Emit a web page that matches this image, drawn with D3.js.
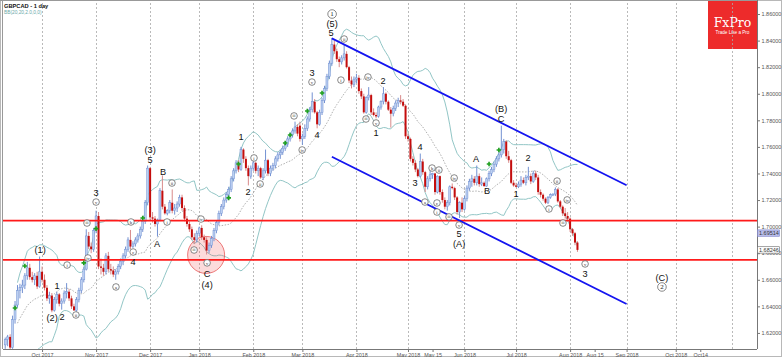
<!DOCTYPE html>
<html><head><meta charset="utf-8">
<script src="https://cdn.jsdelivr.net/npm/d3@7"></script>
<style>
html,body{margin:0;padding:0;background:#fff;}
svg{display:block;font-family:"Liberation Sans",Arial,sans-serif;}
</style></head><body>
<svg id="c" width="782" height="357"></svg>
<script>
// ---------------- data ----------------
const symbolTitle = "GBPCAD - 1 day";
const indicatorTitle = "BB(20,20,2.0,0,0)";
const firstBarDate = "2017-09-11";
const holidays = ["2017-12-25", "2018-01-01"];

const opens = [
1.6110,1.6150,1.6170,1.6090,1.6300,1.6410,1.6520,1.6540,1.6560,1.6630,
1.6690,1.6620,1.6600,1.6630,1.6550,1.6660,1.6600,1.6540,1.6460,1.6480,
1.6370,1.6450,1.6490,1.6420,1.6440,1.6500,1.6510,1.6460,1.6400,1.6370,
1.6450,1.6520,1.6600,1.6680,1.6930,1.6850,1.6830,1.6970,1.7080,1.6700,
1.6690,1.6660,1.6780,1.6680,1.6670,1.6640,1.6660,1.6700,1.6740,1.6780,
1.6830,1.6900,1.6850,1.6870,1.6900,1.6930,1.6980,1.7040,1.7180,1.7440,
1.7070,1.7060,1.7020,1.7050,1.7270,1.7150,1.7100,1.7120,1.7180,1.7120,
1.7140,1.7170,1.7220,1.7140,1.7060,1.7020,1.6980,1.6920,1.6900,1.6950,
1.6990,1.6920,1.6900,1.6820,1.6860,1.6910,1.6970,1.7030,1.7100,1.7150,
1.7200,1.7240,1.7280,1.7360,1.7420,1.7480,1.7430,1.7580,1.7510,1.7440,
1.7380,1.7440,1.7480,1.7420,1.7440,1.7370,1.7420,1.7500,1.7400,1.7440,
1.7460,1.7510,1.7540,1.7560,1.7590,1.7620,1.7660,1.7690,1.7720,1.7750,
1.7760,1.7660,1.7680,1.7740,1.7810,1.7880,1.7940,1.7860,1.7770,1.7860,
1.7950,1.8040,1.8130,1.8230,1.8370,1.8320,1.8260,1.8240,1.8270,1.8300,
1.8200,1.8100,1.8070,1.8110,1.8120,1.8020,1.7980,1.7860,1.7970,1.7990,
1.7860,1.7840,1.7830,1.7900,1.7940,1.8000,1.7940,1.7880,1.7850,1.7890,
1.7930,1.7950,1.7940,1.7910,1.7680,1.7660,1.7510,1.7480,1.7430,1.7380,
1.7490,1.7410,1.7300,1.7360,1.7390,1.7400,1.7260,1.7380,1.7260,1.7200,
1.7150,1.7180,1.7300,1.7290,1.7220,1.7110,1.7180,1.7130,1.7210,1.7290,
1.7340,1.7360,1.7330,1.7380,1.7320,1.7330,1.7305,1.7360,1.7400,1.7430,
1.7470,1.7510,1.7540,1.7580,1.7640,1.7530,1.7500,1.7330,1.7310,1.7300,
1.7320,1.7350,1.7330,1.7370,1.7380,1.7340,1.7400,1.7370,1.7260,1.7240,
1.7210,1.7180,1.7220,1.7240,1.7245,1.7280,1.7190,1.7150,1.7100,1.7080,
1.7060,1.6980,1.6950,1.6880];

const highs = [
1.6165,1.6185,1.6190,1.6330,1.6440,1.6560,1.6570,1.6600,1.6650,1.6735,
1.6720,1.6660,1.6650,1.6660,1.6775,1.6700,1.6640,1.6560,1.6510,1.6500,
1.6470,1.6510,1.6500,1.6460,1.6520,1.6575,1.6530,1.6480,1.6420,1.6470,
1.6540,1.6620,1.6700,1.6980,1.6960,1.6880,1.6990,1.7120,1.7110,1.6760,
1.6720,1.6800,1.6810,1.6720,1.6700,1.6680,1.6720,1.6760,1.6800,1.6850,
1.6920,1.6975,1.6890,1.6920,1.6950,1.7000,1.7060,1.7200,1.7460,1.7450,
1.7110,1.7080,1.7060,1.7290,1.7385,1.7170,1.7130,1.7200,1.7280,1.7170,
1.7190,1.7240,1.7240,1.7160,1.7080,1.7040,1.7000,1.6950,1.6970,1.7000,
1.7010,1.6940,1.6920,1.6880,1.6930,1.6990,1.7050,1.7120,1.7170,1.7220,
1.7260,1.7300,1.7380,1.7440,1.7500,1.7500,1.7600,1.7590,1.7530,1.7460,
1.7460,1.7495,1.7490,1.7460,1.7450,1.7440,1.7580,1.7510,1.7460,1.7480,
1.7530,1.7560,1.7580,1.7610,1.7640,1.7680,1.7710,1.7740,1.7790,1.7770,
1.7790,1.7700,1.7770,1.7830,1.7900,1.8010,1.7960,1.7870,1.7880,1.7970,
1.8060,1.8150,1.8250,1.8420,1.8400,1.8340,1.8280,1.8290,1.8370,1.8320,
1.8210,1.8130,1.8130,1.8150,1.8140,1.8040,1.8000,1.7980,1.8050,1.8000,
1.7890,1.7860,1.7910,1.7950,1.8050,1.8010,1.7950,1.7900,1.7910,1.7950,
1.7970,1.7990,1.7960,1.7920,1.7700,1.7670,1.7530,1.7500,1.7440,1.7550,
1.7510,1.7420,1.7380,1.7420,1.7405,1.7405,1.7385,1.7385,1.7280,1.7220,
1.7200,1.7310,1.7325,1.7300,1.7230,1.7190,1.7220,1.7230,1.7310,1.7360,
1.7390,1.7380,1.7460,1.7400,1.7370,1.7340,1.7370,1.7420,1.7450,1.7490,
1.7530,1.7560,1.7760,1.7660,1.7650,1.7570,1.7510,1.7350,1.7330,1.7340,
1.7380,1.7370,1.7390,1.7450,1.7400,1.7420,1.7420,1.7390,1.7280,1.7250,
1.7220,1.7230,1.7250,1.7250,1.7295,1.7290,1.7200,1.7160,1.7140,1.7110,
1.7070,1.6990,1.6960,1.6890];

const lows = [
1.6080,1.6100,1.6075,1.6080,1.6270,1.6390,1.6460,1.6500,1.6530,1.6600,
1.6600,1.6580,1.6560,1.6530,1.6540,1.6580,1.6520,1.6440,1.6420,1.6355,
1.6360,1.6420,1.6400,1.6375,1.6420,1.6460,1.6440,1.6380,1.6365,1.6360,
1.6430,1.6500,1.6580,1.6670,1.6830,1.6800,1.6810,1.6950,1.6680,1.6640,
1.6630,1.6640,1.6660,1.6640,1.6620,1.6600,1.6640,1.6680,1.6710,1.6760,
1.6810,1.6830,1.6840,1.6850,1.6880,1.6910,1.6960,1.7020,1.7160,1.7050,
1.7030,1.7000,1.6925,1.7040,1.7130,1.7090,1.7085,1.7100,1.7100,1.7090,
1.7110,1.7150,1.7120,1.7040,1.7000,1.6960,1.6900,1.6870,1.6880,1.6930,
1.6900,1.6880,1.6790,1.6800,1.6840,1.6890,1.6950,1.7010,1.7080,1.7130,
1.7180,1.7210,1.7260,1.7340,1.7400,1.7410,1.7420,1.7480,1.7420,1.7310,
1.7360,1.7420,1.7400,1.7380,1.7360,1.7350,1.7400,1.7380,1.7380,1.7420,
1.7440,1.7490,1.7510,1.7540,1.7570,1.7600,1.7640,1.7670,1.7700,1.7680,
1.7640,1.7615,1.7660,1.7720,1.7790,1.7860,1.7850,1.7740,1.7760,1.7840,
1.7930,1.8020,1.8110,1.8210,1.8300,1.8240,1.8200,1.8220,1.8250,1.8190,
1.8080,1.8040,1.8050,1.8080,1.8000,1.7960,1.7850,1.7850,1.7950,1.7840,
1.7830,1.7815,1.7820,1.7880,1.7920,1.7920,1.7870,1.7745,1.7830,1.7870,
1.7900,1.7920,1.7900,1.7660,1.7640,1.7490,1.7460,1.7410,1.7370,1.7370,
1.7390,1.7260,1.7280,1.7340,1.7360,1.7240,1.7250,1.7240,1.7180,1.7130,
1.7120,1.7160,1.7280,1.7200,1.7090,1.7065,1.7110,1.7120,1.7190,1.7270,
1.7300,1.7310,1.7310,1.7300,1.7305,1.7300,1.7300,1.7340,1.7380,1.7410,
1.7450,1.7490,1.7520,1.7550,1.7510,1.7480,1.7320,1.7300,1.7295,1.7290,
1.7300,1.7320,1.7310,1.7350,1.7320,1.7330,1.7350,1.7240,1.7220,1.7195,
1.7170,1.7170,1.7210,1.7230,1.7230,1.7180,1.7140,1.7080,1.7060,1.7040,
1.6960,1.6930,1.6860,1.6810];

const closes = [
1.6150,1.6170,1.6090,1.6300,1.6410,1.6520,1.6540,1.6560,1.6630,1.6690,
1.6620,1.6600,1.6630,1.6550,1.6660,1.6600,1.6540,1.6460,1.6480,1.6370,
1.6450,1.6490,1.6420,1.6440,1.6500,1.6510,1.6460,1.6400,1.6370,1.6450,
1.6520,1.6600,1.6680,1.6930,1.6850,1.6830,1.6970,1.7080,1.6700,1.6690,
1.6660,1.6780,1.6680,1.6670,1.6640,1.6660,1.6700,1.6740,1.6780,1.6830,
1.6900,1.6850,1.6870,1.6900,1.6930,1.6980,1.7040,1.7180,1.7440,1.7070,
1.7060,1.7020,1.7050,1.7270,1.7150,1.7100,1.7120,1.7180,1.7120,1.7140,
1.7170,1.7220,1.7140,1.7060,1.7020,1.6980,1.6920,1.6900,1.6950,1.6990,
1.6920,1.6900,1.6820,1.6860,1.6910,1.6970,1.7030,1.7100,1.7150,1.7200,
1.7240,1.7280,1.7360,1.7420,1.7480,1.7430,1.7580,1.7510,1.7440,1.7380,
1.7440,1.7480,1.7420,1.7440,1.7370,1.7420,1.7500,1.7400,1.7440,1.7460,
1.7510,1.7540,1.7560,1.7590,1.7620,1.7660,1.7690,1.7720,1.7750,1.7700,
1.7660,1.7680,1.7740,1.7810,1.7880,1.7940,1.7860,1.7770,1.7860,1.7950,
1.8040,1.8130,1.8230,1.8370,1.8320,1.8260,1.8240,1.8270,1.8300,1.8200,
1.8100,1.8070,1.8110,1.8120,1.8020,1.7980,1.7860,1.7970,1.7990,1.7860,
1.7840,1.7830,1.7900,1.7940,1.8000,1.7940,1.7880,1.7850,1.7890,1.7930,
1.7950,1.7940,1.7910,1.7680,1.7660,1.7510,1.7480,1.7430,1.7380,1.7490,
1.7410,1.7300,1.7360,1.7390,1.7400,1.7260,1.7380,1.7260,1.7200,1.7150,
1.7180,1.7300,1.7290,1.7220,1.7110,1.7180,1.7130,1.7210,1.7290,1.7340,
1.7360,1.7330,1.7380,1.7320,1.7330,1.7305,1.7360,1.7400,1.7430,1.7470,
1.7510,1.7540,1.7580,1.7640,1.7530,1.7500,1.7330,1.7310,1.7300,1.7320,
1.7350,1.7330,1.7370,1.7380,1.7340,1.7400,1.7370,1.7260,1.7240,1.7210,
1.7180,1.7220,1.7240,1.7245,1.7280,1.7190,1.7150,1.7100,1.7080,1.7060,
1.6980,1.6950,1.6880,1.6825];

// x-axis tick labels (date of the bar each label sits on)
const tickDates = ["2017-10-02","2017-11-01","2017-12-01","2018-01-02","2018-02-01","2018-03-01",
  "2018-04-02","2018-05-01","2018-05-15","2018-06-01","2018-07-02","2018-08-01","2018-08-15",
  "2018-09-03","2018-10-01","2018-10-15"];
const tickLabels = ["Oct 2017","Nov 2017","Dec 2017","Jan 2018","Feb 2018","Mar 2018",
  "Apr 2018","May 2018","May 15","Jun 2018","Jul 2018","Aug 2018","Aug 15",
  "Sep 2018","Oct 2018","Oct14"];
const gridDates = ["2017-10-02","2017-11-01","2017-12-01","2018-01-02","2018-02-01","2018-03-01",
  "2018-04-02","2018-05-01","2018-06-01","2018-07-02","2018-08-01","2018-09-03","2018-10-01","2018-11-01"];
const priceTicks = [1.62,1.64,1.66,1.68,1.70,1.72,1.74,1.76,1.78,1.80,1.82,1.84,1.86];

// horizontal levels and channel
const levels = [1.7045, 1.6750];
const channelUpper = [["2018-03-19", 1.8417], ["2018-09-03", 1.7311]];
const channelLower = [["2018-03-19", 1.7526], ["2018-09-03", 1.6418]];
const zoneCircle = ["2018-01-02", 1.6787];   // highlighted circle near this bar
const priceTags = [[1.69514, "1.69514", "tagBlue"], [1.68246, "1.68246", "tagWhite"]];

// green arrow markers [bar, price]
const markers = [[4,1.6388],[8,1.6704],[32,1.6727],[37,1.6985],[56,1.7065],[91,1.7216],
  [95,1.7471],[114,1.7629],[116,1.7690],[123,1.7870],[129,1.8006],[197,1.7471],[201,1.7577]];

// Elliott wave labels [bar, price, text, kind]  kind: t=text, c=small circle, C=big circle
const waveLabels = [
 [14.2,1.6824,"(1)","t"],[19.1,1.6313,"(2)","t"],[23.1,1.6320,"2","t"],[21.1,1.6553,"1","t"],
 [25.2,1.6711,"i","c"],[28.8,1.6335,"ii","c"],[33.3,1.7027,"iii","c"],[33.7,1.6764,"iv","c"],
 [37.0,1.7185,"v","c"],[37.0,1.7253,"3","t"],
 [45.1,1.6546,"a","c"],[51.2,1.7035,"b","c"],[52.1,1.6809,"c","c"],[52.1,1.6734,"4","t"],
 [59.0,1.7577,"(3)","t"],[59.0,1.7501,"5","t"],[61.8,1.6869,"A","t"],[64.3,1.7411,"B","t"],
 [65.9,1.7035,"i","c"],[67.9,1.7328,"ii","c"],[76.9,1.6824,"iii","c"],[79.7,1.7057,"iv","c"],
 [82.2,1.6727,"v","c"],[82.2,1.6644,"C","t"],[82.2,1.6561,"(4)","t"],
 [96.0,1.7675,"1","t"],[98.9,1.7261,"2","t"],[101.3,1.7517,"i","c"],[103.8,1.7321,"ii","c"],
 [117.6,1.7833,"iii","c"],[120.9,1.7577,"iv","c"],[124.9,1.8088,"v","c"],[124.9,1.8156,"3","t"],
 [127.0,1.7690,"4","t"],[132.7,1.8457,"5","t"],[133.1,1.8525,"(5)","t"],[133.1,1.8600,"1","C"],
 [136.7,1.8103,"i","c"],[138.0,1.8412,"ii","c"],[146.9,1.7810,"iii","c"],[147.7,1.8126,"iv","c"],
 [151.0,1.7780,"v","c"],[151.0,1.7705,"1","t"],[153.8,1.8096,"2","t"],
 [166.9,1.7328,"3","t"],[168.9,1.7599,"4","t"],[170.9,1.7185,"a","c"],[173.8,1.7441,"b","c"],
 [175.8,1.7178,"c","c"],[176.6,1.7426,"ii","c"],[175.8,1.7110,"i","c"],[182.8,1.7366,"iv","c"],
 [180.7,1.7073,"iii","c"],[184.8,1.7012,"v","c"],[184.8,1.6945,"5","t"],[184.8,1.6870,"(A)","t"],
 [191.7,1.7509,"A","t"],[196.2,1.7268,"B","t"],[201.9,1.7810,"C","t"],[201.9,1.7885,"(B)","t"],
 [208.0,1.7246,"1","t"],[212.9,1.7517,"2","t"],
 [221.4,1.7133,"i","c"],[224.7,1.7343,"ii","c"],[227.1,1.7027,"iii","c"],[228.8,1.7201,"iv","c"],
 [236.1,1.6719,"v","c"],[236.1,1.6644,"3","t"],
 [267.4,1.6614,"(C)","t"],[267.4,1.6546,"2","C"]
];

// ---------------- layout ----------------
const plot = {left: 3, right: 757, top: 3, bottom: 349};
const visibleBars = [-0.9, 306.1];
const visiblePrice = [1.6079, 1.8683];

const parse = d3.utcParse("%Y-%m-%d"), fmt = d3.utcFormat("%Y-%m-%d");
const days = [];
for (let d = parse(firstBarDate); days.length < 330; d = d3.utcDay.offset(d, 1)) {
  const wd = d.getUTCDay();
  if (wd === 0 || wd === 6) continue;
  if (holidays.includes(fmt(d))) continue;
  days.push(fmt(d));
}
const barOf = s => days.indexOf(s);

const x = d3.scaleLinear().domain(visibleBars).range([plot.left, plot.right]);
const y = d3.scaleLinear().domain(visiblePrice).range([plot.bottom, plot.top]);

const svg = d3.select("#c");
svg.append("rect").attr("x",0.5).attr("y",0.5).attr("width",781).attr("height",356)
  .attr("fill","#fff").attr("stroke","#b8b8b8");

// logo
const logo = svg.append("g");
logo.append("rect").attr("x",708).attr("y",0).attr("width",49).attr("height",49).attr("fill","#ed2b2b");
logo.append("text").attr("x",732.5).attr("y",27).attr("text-anchor","middle")
  .attr("font-family","'DejaVu Serif','Liberation Serif',serif").attr("font-size",12.5)
  .attr("fill","#fff").text("FxPro");
logo.append("text").attr("x",732.5).attr("y",33.5).attr("text-anchor","middle")
  .attr("font-size",4.6).attr("fill","#fff").text("Trade Like a Pro");

svg.append("defs").append("clipPath").attr("id","clip").append("rect")
  .attr("x",plot.left).attr("y",plot.top).attr("width",plot.right-plot.left).attr("height",plot.bottom-plot.top);
const g = svg.append("g").attr("clip-path","url(#clip)");

// grid
g.selectAll("line.grid").data(gridDates).join("line").attr("class","grid")
  .attr("x1",d=>Math.round(x(barOf(d)))+0.5).attr("x2",d=>Math.round(x(barOf(d)))+0.5)
  .attr("y1",plot.top).attr("y2",plot.bottom)
  .attr("stroke","#a8a8a8").attr("stroke-width",0.8).attr("stroke-dasharray","2,2");

// Bollinger bands (20, 2) computed from closes
const bb = closes.map((c,i) => {
  const w = closes.slice(Math.max(0,i-19), i+1);
  const m = d3.mean(w), s = Math.sqrt(d3.mean(w, v => (v-m)*(v-m)));
  return {i, m, u: m+2*s, l: m-2*s};
}).filter(d => d.i >= 5);
const ln = k => d3.line().x(d=>x(d.i)).y(d=>y(d[k]));
g.append("path").datum(bb).attr("d",ln("u")).attr("fill","none").attr("stroke","#92c6c6").attr("stroke-width",1);
g.append("path").datum(bb).attr("d",ln("l")).attr("fill","none").attr("stroke","#92c6c6").attr("stroke-width",1);
g.append("path").datum(bb).attr("d",ln("m")).attr("fill","none").attr("stroke","#9a9a9a").attr("stroke-width",0.8).attr("stroke-dasharray","1.5,1.5");

// highlight circle
g.append("circle").attr("cx",x(barOf(zoneCircle[0])+2.8)).attr("cy",y(zoneCircle[1])).attr("r",18.5)
  .attr("fill","rgba(240,90,90,0.22)").attr("stroke","rgba(230,70,70,0.7)").attr("stroke-width",1);

// candles
const bars = closes.map((c,i)=>({i,o:opens[i],h:highs[i],l:lows[i],c}));
const cg = g.append("g");
cg.selectAll("line.w").data(bars).join("line")
  .attr("x1",d=>x(d.i)).attr("x2",d=>x(d.i)).attr("y1",d=>y(d.h)).attr("y2",d=>y(d.l))
  .attr("stroke",d=>d.c>=d.o?"#7391d2":"#d88a8a").attr("stroke-width",1);
cg.selectAll("rect.b").data(bars).join("rect")
  .attr("x",d=>x(d.i)-1).attr("width",2)
  .attr("y",d=>y(Math.max(d.o,d.c))).attr("height",d=>Math.max(1,Math.abs(y(d.o)-y(d.c))))
  .attr("fill",d=>d.c>=d.o?"#bcd0f2":"#c40d0d")
  .attr("stroke",d=>d.c>=d.o?"#7391d2":"none").attr("stroke-width",0.5);

// horizontal levels
g.selectAll("line.lvl").data(levels).join("line")
  .attr("x1",plot.left).attr("x2",plot.right).attr("y1",d=>y(d)).attr("y2",d=>y(d))
  .attr("stroke","#ff1a1a").attr("stroke-width",1.6);

// channel
[channelUpper, channelLower].forEach(ch => {
  g.append("line").attr("x1",x(barOf(ch[0][0]))).attr("y1",y(ch[0][1]))
    .attr("x2",x(barOf(ch[1][0]))).attr("y2",y(ch[1][1]))
    .attr("stroke","#1414f0").attr("stroke-width",1.8);
});

// green markers
const mg = g.append("g");
markers.forEach(([b,p]) => {
  const cx = x(b), cy = y(p);
  mg.append("path").attr("d",`M${cx-2.3},${cy}H${cx+2.3}M${cx},${cy-2.3}V${cy+2.3}`)
    .attr("stroke","#1fa01f").attr("stroke-width",1.6);
});

// wave labels
const lg = g.append("g");
waveLabels.forEach(([b,p,t,k]) => {
  const cx = x(b), cy = y(p);
  if (k === "t") {
    lg.append("text").attr("x",cx).attr("y",cy).attr("text-anchor","middle")
      .attr("dominant-baseline","central").attr("font-size",9.2).attr("fill","#111").text(t);
  } else {
    const r = k === "C" ? 4.3 : 3.3;
    lg.append("circle").attr("cx",cx).attr("cy",cy).attr("r",r).attr("fill","#fff")
      .attr("stroke","#555").attr("stroke-width",0.7);
    lg.append("text").attr("x",cx).attr("y",cy+0.3).attr("text-anchor","middle")
      .attr("dominant-baseline","central").attr("font-size",k==="C"?7:(t.length>2?3.5:4.5))
      .attr("font-family","'Liberation Serif',serif").attr("fill","#222").text(t);
  }
});

// frame
svg.append("line").attr("x1",plot.left-0.5).attr("x2",plot.left-0.5).attr("y1",0).attr("y2",plot.bottom).attr("stroke","#999");
svg.append("line").attr("x1",0).attr("x2",plot.right).attr("y1",0.5).attr("y2",0.5).attr("stroke","#999");

// axes
const ya = svg.append("g").attr("transform",`translate(${plot.right},0)`)
  .call(d3.axisRight(y).tickValues(priceTicks).tickFormat(d3.format(".5f")).tickSize(3).tickPadding(1.5));
ya.select(".domain").attr("stroke","#777").attr("d",`M0.5,0V${plot.bottom}`);
ya.selectAll(".tick line").attr("stroke","#777");
ya.selectAll("text").attr("font-size",5.5).attr("fill","#555").attr("font-family","'Liberation Sans',Arial,sans-serif");

const xa = svg.append("g").attr("transform",`translate(0,${plot.bottom})`)
  .call(d3.axisBottom(x).tickValues(tickDates.map(barOf)).tickFormat((d,i)=>tickLabels[i]).tickSize(3).tickPadding(0.8));
xa.select(".domain").attr("stroke","#777").attr("d",`M${plot.left},0.5H${plot.right}`);
xa.selectAll(".tick line").attr("stroke","#777");
xa.selectAll("text").attr("font-size",5.4).attr("fill","#555").attr("font-family","'Liberation Sans',Arial,sans-serif");

// price tags
priceTags.forEach(([p,t,cls]) => {
  const cy = y(p);
  svg.append("rect").attr("x",plot.right+0.5).attr("y",cy-3.2).attr("width",22).attr("height",6.4)
    .attr("fill",cls==="tagBlue"?"#b9bdec":"#fff").attr("stroke",cls==="tagBlue"?"#7d83c8":"#666").attr("stroke-width",0.6);
  svg.append("text").attr("x",plot.right+2).attr("y",cy).attr("dominant-baseline","central")
    .attr("font-size",5.5).attr("fill","#333").text(t);
});

// titles
svg.append("text").attr("x",4).attr("y",7.5).attr("font-size",5.7).attr("font-weight","bold").attr("fill","#111").text(symbolTitle);
svg.append("text").attr("x",4).attr("y",14).attr("font-size",4.8).attr("fill","#6aa8a8").text(indicatorTitle);
</script>
</body></html>
